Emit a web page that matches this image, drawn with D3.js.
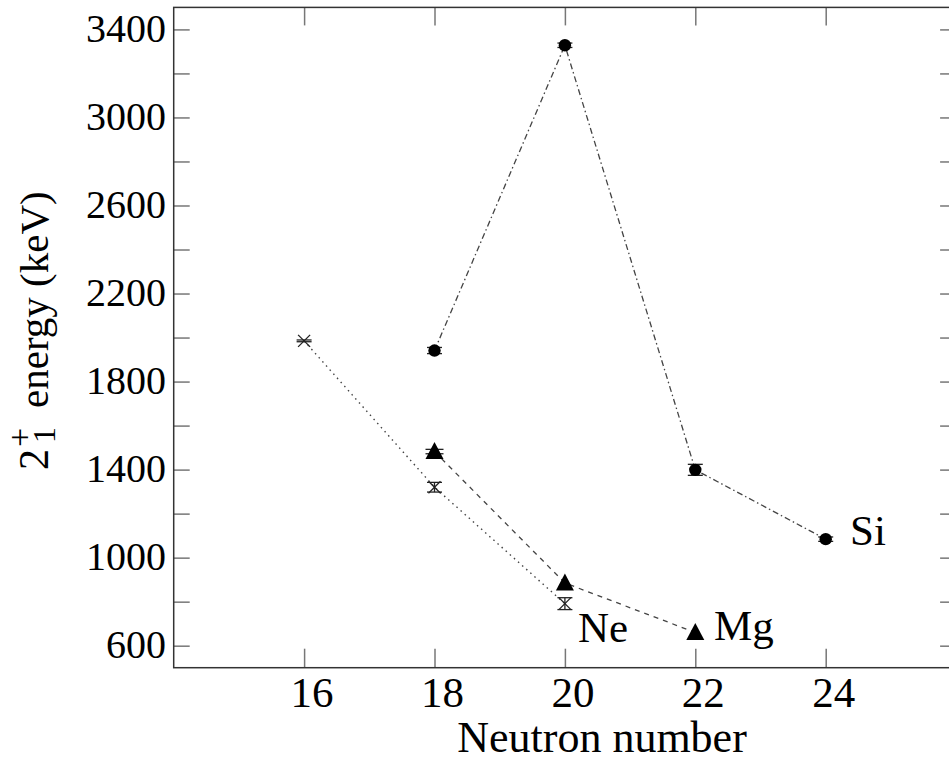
<!DOCTYPE html>
<html>
<head>
<meta charset="utf-8">
<script src="https://cdn.jsdelivr.net/npm/d3@7"></script>
<style>
  html, body { margin: 0; padding: 0; background: #fff; }
  svg { display: block; }
  text { font-family: "Liberation Serif", "DejaVu Serif", serif; fill: #000; }
</style>
</head>
<body>
<svg id="chart" width="949" height="763"></svg>
<script>
// ---- data ----
const xTicks = [16, 18, 20, 22, 24];
const yTicks = [600, 800, 1000, 1200, 1400, 1600, 1800, 2000, 2200, 2400, 2600, 2800, 3000, 3200, 3400];
const yTickLabels = [600, 1000, 1400, 1800, 2200, 2600, 3000, 3400];

const neN = [16, 18, 20];
const neE = [1985, 1320, 791];
const neErr = [4, 22, 27];

const mgN = [18, 20, 22];
const mgE = [1482, 885, 660];
const mgErr = [10, 0, 0];

const siN = [18, 20, 22, 24];
const siE = [1941, 3328, 1399, 1084];
const siErr = [14, 10, 25, 10];

// ---- layout ----
const L = 173.7, R = 956.1, T = 7.4, B = 667.7;
const svg = d3.select("#chart");
const x = d3.scaleLinear().domain([14, 26]).range([L, R]);
const y = d3.scaleLinear().domain([500, 3500]).range([B, T]);

const tickCol = "#777", frameCol = "#333", lineCol = "#444";

// ticks via axes (inward)
const gB = svg.append("g").attr("transform", `translate(0,${B})`)
  .call(d3.axisBottom(x).tickValues(xTicks).tickSize(-19).tickFormat(""));
const gT = svg.append("g").attr("transform", `translate(0,${T})`)
  .call(d3.axisTop(x).tickValues(xTicks).tickSize(-18).tickFormat(""));
const gL = svg.append("g").attr("transform", `translate(${L},0)`)
  .call(d3.axisLeft(y).tickValues(yTicks).tickSize(-16).tickFormat(""));
const gR = svg.append("g").attr("transform", `translate(${R},0)`)
  .call(d3.axisRight(y).tickValues(yTicks).tickSize(-16).tickFormat(""));
[gB, gT, gL, gR].forEach(g => {
  g.select(".domain").remove();
  g.selectAll(".tick line").attr("stroke", tickCol).attr("stroke-width", 1.5);
});

// frame
svg.append("rect").attr("x", L).attr("y", T).attr("width", R - L).attr("height", B - T)
  .attr("fill", "none").attr("stroke", frameCol).attr("stroke-width", 1.5);

// tick labels
svg.append("g").selectAll("text").data(xTicks).join("text")
  .attr("x", d => x(d) + 8).attr("y", 707)
  .attr("text-anchor", "middle").attr("font-size", 43).text(d => d);
svg.append("g").selectAll("text").data(yTickLabels).join("text")
  .attr("x", 166).attr("y", d => y(d) + 12.5)
  .attr("text-anchor", "end").attr("font-size", 40).text(d => d);

// axis titles
svg.append("text").attr("x", 602).attr("y", 752).attr("text-anchor", "middle")
  .attr("font-size", 44).text("Neutron number");
const yl = svg.append("g").attr("transform", "translate(48,470) rotate(-90)");
yl.append("text").attr("x", 0).attr("y", 0).attr("font-size", 42).text("2");
yl.append("text").attr("x", 23).attr("y", -17).attr("font-size", 34).text("+");
yl.append("text").attr("x", 27).attr("y", 7).attr("font-size", 32).text("1");
yl.append("text").attr("x", 62).attr("y", 0).attr("font-size", 41).text("energy (keV)");

// lines
const line = d3.line().x(d => x(d[0])).y(d => y(d[1]));
svg.append("path").datum(d3.zip(neN, neE)).attr("d", line)
  .attr("fill", "none").attr("stroke", lineCol).attr("stroke-width", 1.4)
  .attr("stroke-dasharray", "1.5,4");
svg.append("path").datum(d3.zip(mgN, mgE)).attr("d", line)
  .attr("fill", "none").attr("stroke", lineCol).attr("stroke-width", 1.3)
  .attr("stroke-dasharray", "5,5");
svg.append("path").datum(d3.zip(siN, siE)).attr("d", line)
  .attr("fill", "none").attr("stroke", lineCol).attr("stroke-width", 1.3)
  .attr("stroke-dasharray", "6,3,1.5,3");

// error bars helper
function errBars(ns, es, errs, capW) {
  const g = svg.append("g").attr("stroke", "#222").attr("stroke-width", 1.3);
  ns.forEach((n, i) => {
    if (!errs[i]) return;
    const cx = x(n), y1 = y(es[i] + errs[i]), y2 = y(es[i] - errs[i]);
    g.append("line").attr("x1", cx).attr("x2", cx).attr("y1", y1).attr("y2", y2);
    g.append("line").attr("x1", cx - capW / 2).attr("x2", cx + capW / 2).attr("y1", y1).attr("y2", y1);
    g.append("line").attr("x1", cx - capW / 2).attr("x2", cx + capW / 2).attr("y1", y2).attr("y2", y2);
  });
}

// Ne markers: x cross + caps
errBars(neN, neE, neErr, 15);
const gNe = svg.append("g").attr("stroke", "#222").attr("stroke-width", 1.3);
neN.forEach((n, i) => {
  const cx = x(n), cy = y(neE[i]), s = 6;
  gNe.append("line").attr("x1", cx - s).attr("y1", cy - s).attr("x2", cx + s).attr("y2", cy + s);
  gNe.append("line").attr("x1", cx - s).attr("y1", cy + s).attr("x2", cx + s).attr("y2", cy - s);
});

// Mg triangles
errBars(mgN, mgE, mgErr, 18);
svg.append("g").selectAll("path").data(d3.zip(mgN, mgE)).join("path")
  .attr("d", d => {
    const cx = x(d[0]), cy = y(d[1]);
    return `M${cx},${cy - 9.5}L${cx + 9},${cy + 7.5}L${cx - 9},${cy + 7.5}Z`;
  })
  .attr("fill", "#000");

// Si circles
errBars(siN, siE, siErr, 15);
svg.append("g").selectAll("circle").data(d3.zip(siN, siE)).join("circle")
  .attr("cx", d => x(d[0])).attr("cy", d => y(d[1])).attr("r", 6.2).attr("fill", "#000");

// element labels
svg.append("text").attr("x", 850).attr("y", 545).attr("font-size", 43).text("Si");
svg.append("text").attr("x", 578).attr("y", 642).attr("font-size", 43).text("Ne");
svg.append("text").attr("x", 714).attr("y", 640).attr("font-size", 43).text("Mg");
</script>
</body>
</html>
